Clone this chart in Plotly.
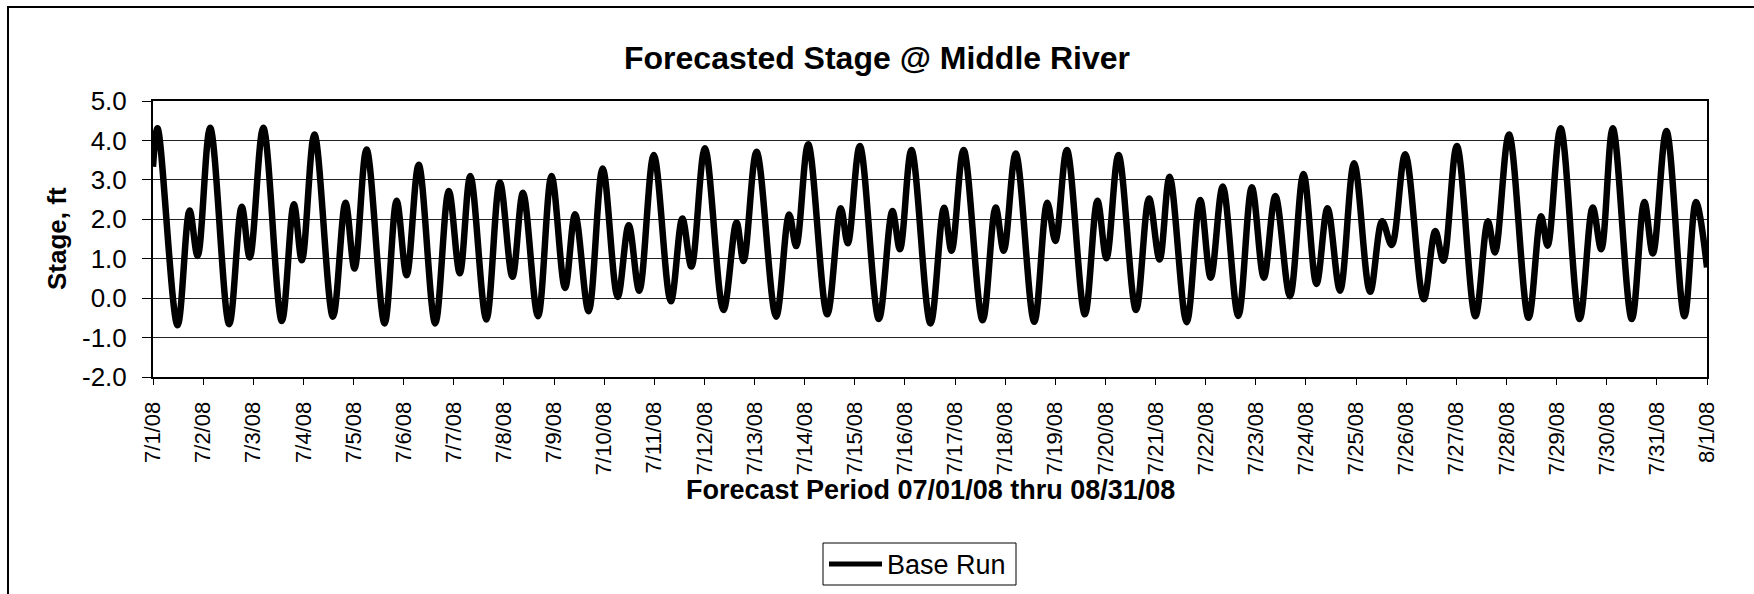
import pandas as pd
import plotly.graph_objects as go

# ---- data ----
start_date = "2008-07-01"

# time of each tidal turning point, in days after 7/1/08 00:00
extrema_day = [
    0.00, 0.09, 0.49, 0.73, 0.89, 1.14, 1.52, 1.77, 1.93, 2.20,
    2.57, 2.81, 2.97, 3.22, 3.59, 3.84, 4.02, 4.26, 4.62, 4.86,
    5.06, 5.30, 5.63, 5.90, 6.12, 6.33, 6.65, 6.92, 7.17, 7.38,
    7.68, 7.95, 8.22, 8.42, 8.69, 8.97, 9.27, 9.49, 9.70, 9.99,
    10.33, 10.56, 10.74, 11.01, 11.38, 11.64, 11.78, 12.04, 12.43, 12.69,
    12.83, 13.07, 13.45, 13.72, 13.86, 14.10, 14.48, 14.75, 14.90, 15.13,
    15.51, 15.78, 15.93, 16.17, 16.55, 16.81, 16.97, 17.21, 17.58, 17.84,
    18.00, 18.23, 18.59, 18.84, 19.02, 19.26, 19.61, 19.87, 20.08, 20.28,
    20.62, 20.89, 21.10, 21.34, 21.65, 21.92, 22.16, 22.39, 22.68, 22.95,
    23.21, 23.43, 23.68, 23.96, 24.28, 24.52, 24.71, 24.98, 25.35, 25.58,
    25.74, 26.01, 26.38, 26.63, 26.77, 27.05, 27.44, 27.69, 27.82, 28.08,
    28.46, 28.72, 28.89, 29.12, 29.50, 29.75, 29.92, 30.19, 30.55, 30.78,
    31.00,
]

# stage (ft) at each turning point
base_run_stage = [
    3.33, 4.31, -0.69, 2.22, 1.07, 4.32, -0.66, 2.32, 1.03, 4.32,
    -0.58, 2.38, 0.96, 4.15, -0.47, 2.42, 0.75, 3.77, -0.64, 2.47,
    0.58, 3.38, -0.64, 2.72, 0.63, 3.10, -0.54, 2.94, 0.54, 2.67,
    -0.46, 3.10, 0.26, 2.13, -0.33, 3.29, 0.03, 1.85, 0.19, 3.63,
    -0.08, 2.02, 0.80, 3.80, -0.30, 1.92, 0.94, 3.71, -0.47, 2.12,
    1.32, 3.90, -0.41, 2.28, 1.39, 3.86, -0.53, 2.21, 1.24, 3.76,
    -0.64, 2.29, 1.20, 3.76, -0.56, 2.30, 1.20, 3.67, -0.60, 2.42,
    1.45, 3.76, -0.41, 2.47, 1.01, 3.63, -0.30, 2.53, 0.98, 3.08,
    -0.61, 2.49, 0.52, 2.83, -0.45, 2.81, 0.52, 2.59, 0.05, 3.15,
    0.36, 2.28, 0.19, 3.42, 0.16, 1.95, 1.35, 3.65, -0.03, 1.70,
    0.95, 3.86, -0.46, 1.95, 1.16, 4.15, -0.50, 2.08, 1.33, 4.31,
    -0.53, 2.30, 1.24, 4.31, -0.53, 2.44, 1.13, 4.24, -0.46, 2.44,
    0.78,
]

tick_labels = [
    "7/1/08", "7/2/08", "7/3/08", "7/4/08", "7/5/08", "7/6/08", "7/7/08",
    "7/8/08", "7/9/08", "7/10/08", "7/11/08", "7/12/08", "7/13/08", "7/14/08",
    "7/15/08", "7/16/08", "7/17/08", "7/18/08", "7/19/08", "7/20/08", "7/21/08",
    "7/22/08", "7/23/08", "7/24/08", "7/25/08", "7/26/08", "7/27/08", "7/28/08",
    "7/29/08", "7/30/08", "7/31/08", "8/1/08",
]
y_ticks = [-2.0, -1.0, 0.0, 1.0, 2.0, 3.0, 4.0, 5.0]

title_text = "Forecasted Stage @ Middle River"
x_title = "Forecast Period 07/01/08 thru 08/31/08"
y_title = "Stage, ft"
series_name = "Base Run"

# ---- build ----
t0 = pd.Timestamp(start_date)
x_times = [t0 + pd.Timedelta(days=d) for d in extrema_day]
tick_vals = [t0 + pd.Timedelta(days=i) for i in range(len(tick_labels))]

FONT = "Liberation Sans, Arial, sans-serif"

fig = go.Figure()
fig.add_trace(go.Scatter(
    x=x_times, y=base_run_stage, mode="lines", name=series_name,
    line=dict(color="black", width=6.5, shape="spline", smoothing=1.0),
    showlegend=False,
))

# plot-area geometry in pixels
W, H = 1754, 594
ML, MR, MT, MB = 153, 47, 101, 217
PW, PH = W - ML - MR, H - MT - MB


def px_to_paper_x(px):
    return (px - ML) / PW


def px_to_paper_y(py):
    return (H - MB - py) / PH


fig.update_layout(
    width=W, height=H,
    margin=dict(l=ML, r=MR, t=MT, b=MB, pad=0, autoexpand=False),
    paper_bgcolor="white", plot_bgcolor="white",
    font=dict(family=FONT, color="black"),
    title=dict(
        text=title_text, x=0.5, xref="container", xanchor="center",
        y=1 - 58 / H, yref="container", yanchor="middle",
        font=dict(size=32, family=FONT, color="black", weight="bold"),
    ),
    showlegend=False,
)

fig.update_xaxes(
    range=[tick_vals[0], tick_vals[-1]], automargin=False,
    tickmode="array", tickvals=tick_vals, ticktext=tick_labels,
    tickangle=-90, tickfont=dict(size=22, family=FONT, color="black"),
    ticks="outside", ticklen=6, tickwidth=1, tickcolor="black",
    ticklabelstandoff=8,
    showline=True, linecolor="black", linewidth=2, mirror=True,
    showgrid=False, zeroline=False,
)
fig.update_yaxes(
    range=[-2, 5], automargin=False, tickmode="array", tickvals=y_ticks,
    ticktext=[f"{v:.1f}" for v in y_ticks],
    tickfont=dict(size=26, family=FONT, color="black"),
    ticks="outside", ticklen=9, tickwidth=1, tickcolor="black",
    ticklabelstandoff=10,
    showline=True, linecolor="black", linewidth=2, mirror=True,
    showgrid=True, gridcolor="#222222", gridwidth=1, zeroline=False,
)

# axis titles
fig.add_annotation(
    text=x_title, xref="paper", yref="paper",
    x=0.5, y=px_to_paper_y(490), xanchor="center", yanchor="middle",
    showarrow=False, font=dict(size=27, family=FONT, color="black", weight="bold"),
)
fig.add_annotation(
    text=y_title, xref="paper", yref="paper",
    x=px_to_paper_x(57), y=0.5, xanchor="center", yanchor="middle",
    textangle=-90, showarrow=False,
    font=dict(size=26, family=FONT, color="black", weight="bold"),
)

# legend box (drawn like the reference: long sample line + label)
LEG_X0, LEG_X1, LEG_Y0, LEG_Y1 = 823, 1016, 543, 585
leg_mid = (LEG_Y0 + LEG_Y1) / 2
fig.add_shape(
    type="rect", xref="paper", yref="paper",
    x0=px_to_paper_x(LEG_X0), x1=px_to_paper_x(LEG_X1),
    y0=px_to_paper_y(LEG_Y1), y1=px_to_paper_y(LEG_Y0),
    line=dict(color="black", width=1), fillcolor="white",
)
fig.add_shape(
    type="line", xref="paper", yref="paper",
    x0=px_to_paper_x(LEG_X0 + 6), x1=px_to_paper_x(LEG_X0 + 59),
    y0=px_to_paper_y(leg_mid), y1=px_to_paper_y(leg_mid),
    line=dict(color="black", width=5),
)
fig.add_annotation(
    text=series_name, xref="paper", yref="paper",
    x=px_to_paper_x(LEG_X0 + 62), y=px_to_paper_y(leg_mid + 1),
    xanchor="left", yanchor="middle", showarrow=False,
    font=dict(size=27, family=FONT, color="black"),
)

# outer chart frame (extends past the right/bottom edges like the reference)
fig.add_shape(
    type="rect", xref="paper", yref="paper",
    x0=px_to_paper_x(8), x1=px_to_paper_x(W + 20),
    y0=px_to_paper_y(H + 20), y1=px_to_paper_y(7),
    line=dict(color="black", width=2), fillcolor="rgba(0,0,0,0)", layer="below",
)

fig.write_html(
    "out.html",
    config={"displayModeBar": False},
    post_script="document.body.style.margin='0';document.body.style.padding='0';"
                "document.body.style.overflow='hidden';",
)
